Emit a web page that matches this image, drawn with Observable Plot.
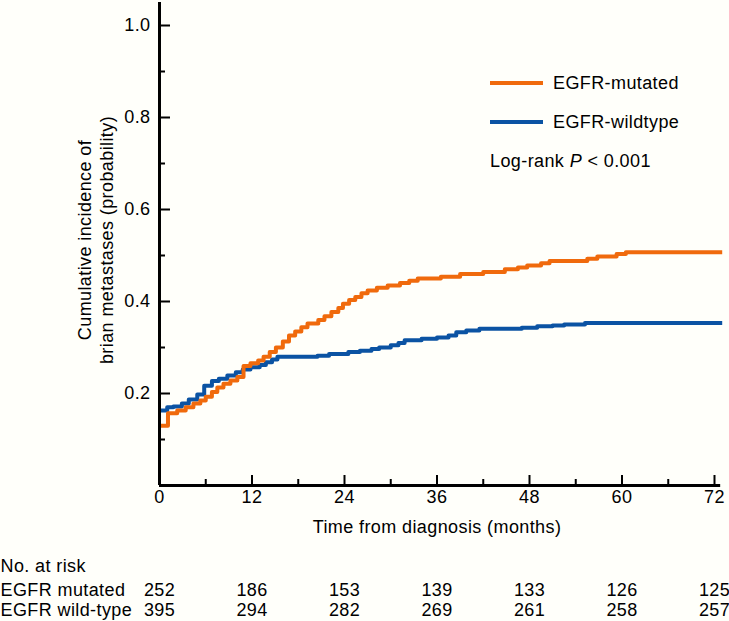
<!DOCTYPE html>
<html><head><meta charset="utf-8">
<script src="https://cdn.jsdelivr.net/npm/d3@7"></script>
<script src="https://cdn.jsdelivr.net/npm/@observablehq/plot@0.6"></script>
<style>
html,body{margin:0;padding:0;background:#fffffa;}
#wrap{position:relative;width:729px;height:621px;font-family:"Liberation Sans",Arial,sans-serif;color:#000;}
svg text{letter-spacing:0.4px;}
.leg{position:absolute;left:490px;font-size:18px;letter-spacing:0.4px;display:flex;align-items:center;white-space:nowrap;line-height:20px;}
.sw{width:53px;height:4px;margin-right:10px;}
</style></head><body><div id="wrap"></div>
<script>
// Cumulative incidence (step-after)
const mutatedT = [0, 1.1, 2.3, 3.4, 4.4, 5.3, 6.0, 6.8, 7.5, 8.3, 9.2, 10.1, 10.9, 11.8, 12.8, 13.5, 14.3, 15.1, 16.0, 16.8, 17.6, 18.4, 19.2, 20.6, 21.4, 22.3, 23.2, 23.8, 24.6, 25.4, 26.2, 27.0, 28.2, 29.6, 31.2, 32.4, 33.5, 36.5, 39.0, 42.0, 44.8, 46.5, 47.7, 49.5, 50.6, 55.5, 56.8, 59.3, 60.5, 73];
const mutatedV = [0.13, 0.157, 0.163, 0.17, 0.178, 0.185, 0.193, 0.203, 0.213, 0.221, 0.228, 0.236, 0.26, 0.266, 0.272, 0.28, 0.29, 0.3, 0.313, 0.326, 0.335, 0.344, 0.352, 0.36, 0.368, 0.377, 0.386, 0.395, 0.403, 0.41, 0.418, 0.424, 0.43, 0.435, 0.44, 0.445, 0.45, 0.454, 0.46, 0.464, 0.47, 0.474, 0.478, 0.483, 0.488, 0.493, 0.498, 0.503, 0.507, 0.507];
const wildT = [0, 1.0, 1.8, 2.9, 3.8, 4.9, 5.8, 6.8, 7.7, 8.8, 9.9, 10.8, 11.8, 13.0, 13.8, 14.6, 15.3, 20.5, 22.0, 24.5, 26.0, 27.5, 28.5, 30.0, 31.0, 31.8, 34.0, 36.0, 37.5, 38.5, 39.8, 41.5, 47.0, 49.0, 51.0, 52.5, 55.2, 73];
const wildV = [0.163, 0.17, 0.172, 0.178, 0.187, 0.198, 0.217, 0.227, 0.232, 0.239, 0.246, 0.252, 0.257, 0.262, 0.268, 0.274, 0.28, 0.282, 0.286, 0.29, 0.293, 0.297, 0.3, 0.305, 0.31, 0.316, 0.319, 0.322, 0.326, 0.333, 0.337, 0.341, 0.343, 0.346, 0.348, 0.35, 0.353, 0.353];

const xTicks = [0, 12, 24, 36, 48, 60, 72];
const xMinor = [6, 18, 30, 42, 54, 66];
const yTicks = [0.2, 0.4, 0.6, 0.8, 1.0];
const yMinor = [0.1, 0.3, 0.5, 0.7, 0.9];
const riskTimes = [0, 12, 24, 36, 48, 60, 72];
const riskMutated = [252, 186, 153, 139, 133, 126, 125];
const riskWild = [395, 294, 282, 269, 261, 258, 257];
const seriesNames = ["EGFR-mutated", "EGFR-wildtype"];
const rowLabels = ["EGFR mutated", "EGFR wild-type"];
const riskTitle = "No. at risk";
const xLabel = "Time from diagnosis (months)";
const yLabel = "Cumulative incidence of\nbrian metastases (probability)";
const colors = ["#f06a0c", "#0b53a3"];

const mutated = mutatedT.map((t, i) => ({t, v: mutatedV[i]}));
const wild = wildT.map((t, i) => ({t, v: wildV[i]}));

const W = 729, H = 621, mL = 159, mR = 15, mT = 2, mB = 136;
const fw = W - mL - mR, fh = H - mT - mB;
const yDom = [0, 1.05];

const chart = Plot.plot({
  width: W, height: H,
  marginLeft: mL, marginRight: mR, marginTop: mT, marginBottom: mB,
  x: {domain: [0, 72]},
  y: {domain: yDom},
  style: {fontSize: "18px", fontFamily: '"Liberation Sans", Arial, sans-serif', background: "#fffffa", color: "#000", overflow: "visible"},
  marks: [
    Plot.axisY({ticks: yTicks, tickSize: 0, tickPadding: 9, tickFormat: d3.format(".1f"), label: null}),
    Plot.axisX({ticks: xTicks, tickSize: 0, tickPadding: 5, label: null}),
    Plot.tickY(yTicks, {y: d => d, insetRight: fw - 11, strokeWidth: 2, stroke: "#000"}),
    Plot.tickY(yMinor, {y: d => d, insetRight: fw - 6, strokeWidth: 2, stroke: "#000"}),
    Plot.tickX(xTicks, {x: d => d, insetTop: fh - 10, strokeWidth: 2, stroke: "#000"}),
    Plot.tickX(xMinor, {x: d => d, insetTop: fh - 6, strokeWidth: 2, stroke: "#000"}),
    Plot.line(wild, {x: "t", y: "v", curve: "step-after", stroke: colors[1], strokeWidth: 4, strokeLinecap: "butt"}),
    Plot.ruleX([0], {y1: 0, y2: mutatedV[0], stroke: "#e8403a", strokeWidth: 1}),
    Plot.line(mutated, {x: "t", y: "v", curve: "step-after", stroke: colors[0], strokeWidth: 4, strokeLinecap: "butt"}),
    Plot.ruleX([0], {y1: 0, y2: yDom[1], strokeWidth: 3, stroke: "#000"}),
    Plot.ruleY([0], {x1: 0, x2: 72.8, strokeWidth: 3, stroke: "#000"}),
    Plot.text([yLabel], {frameAnchor: "left", dx: -65, rotate: -90, lineHeight: 1.22, textAnchor: "middle", lineAnchor: "middle", dy: -4}),
    Plot.text([xLabel], {frameAnchor: "bottom", dy: 42, lineAnchor: "middle"}),
    Plot.text([riskTitle], {frameAnchor: "bottom-left", dx: -mL, dy: 81, textAnchor: "start", lineAnchor: "middle"}),
    Plot.text([rowLabels[0]], {frameAnchor: "bottom-left", dx: -mL, dy: 105, textAnchor: "start", lineAnchor: "middle"}),
    Plot.text([rowLabels[1]], {frameAnchor: "bottom-left", dx: -mL, dy: 125, textAnchor: "start", lineAnchor: "middle"}),
    Plot.text(riskTimes, {x: d => d, text: (d, i) => riskMutated[i], frameAnchor: "bottom", dy: 105, lineAnchor: "middle"}),
    Plot.text(riskTimes, {x: d => d, text: (d, i) => riskWild[i], frameAnchor: "bottom", dy: 125, lineAnchor: "middle"})
  ]
});

const wrap = document.getElementById("wrap");
wrap.appendChild(chart);

const legTops = [73, 112];
seriesNames.forEach((name, i) => {
  const d = document.createElement("div");
  d.className = "leg";
  d.style.top = legTops[i] + "px";
  d.innerHTML = `<span class="sw" style="background:${colors[i]}"></span><span>${name}</span>`;
  wrap.appendChild(d);
});
const p = document.createElement("div");
p.className = "leg";
p.style.top = "151px";
p.innerHTML = 'Log-rank&nbsp;<i>P</i>&nbsp;&lt; 0.001';
wrap.appendChild(p);
</script>
</body></html>
